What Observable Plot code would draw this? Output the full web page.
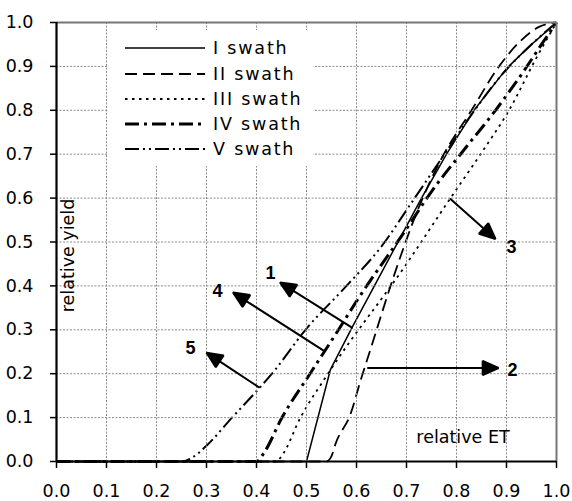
<!DOCTYPE html>
<html><head><meta charset="utf-8">
<script src="https://cdn.jsdelivr.net/npm/d3@7"></script>
<script src="https://cdn.jsdelivr.net/npm/@observablehq/plot@0.6"></script>
<style>
body{margin:0;background:#fff;}
#wrap{position:relative;width:572px;height:501px;}
#legend{position:absolute;left:107px;top:30px;width:206px;height:136px;background:#fff;font-family:"DejaVu Sans",sans-serif;font-size:17.5px;letter-spacing:1.8px;color:#000;}
#legend .row{position:absolute;left:0;height:22px;display:flex;align-items:center;white-space:nowrap;}
#legend .swatch{display:block;margin-left:18px;margin-right:8px;}
</style></head><body><div id="wrap"></div>
<script>
// ---- data ----
const tickValues = [0.0, 0.1, 0.2, 0.3, 0.4, 0.5, 0.6, 0.7, 0.8, 0.9, 1.0];

const swathI_et    = [0, 0.50, 0.548, 0.591, 0.73, 0.78, 0.835, 0.90, 0.945, 1.0];
const swathI_yield = [0, 0.00, 0.21,  0.305, 0.60, 0.70, 0.80,  0.895, 0.945, 1.0];

const swathII_et    = [0, 0.54, 0.55, 0.558, 0.588, 0.608, 0.632, 0.671, 0.725, 0.77, 0.83, 0.885, 0.93, 0.965, 1.0];
const swathII_yield = [0, 0.00, 0.012, 0.04, 0.108, 0.184, 0.27, 0.41, 0.58, 0.69, 0.80, 0.90, 0.96, 0.99, 1.0];

const swathIII_et    = [0, 0.44, 0.45, 0.488, 0.543, 0.70, 0.788, 0.848, 0.905, 0.96, 1.0];
const swathIII_yield = [0, 0.00, 0.012, 0.10, 0.20, 0.45, 0.60, 0.70, 0.80, 0.92, 1.0];

const swathIV_et    = [0, 0.40, 0.415, 0.451, 0.507, 0.564, 0.60, 0.70, 0.75, 0.808, 0.878, 0.935, 0.97, 1.0];
const swathIV_yield = [0, 0.00, 0.02, 0.10, 0.20, 0.30, 0.365, 0.53, 0.615, 0.70, 0.80, 0.89, 0.95, 1.0];

const swathV_et    = [0, 0.25, 0.27, 0.30, 0.351, 0.40, 0.431, 0.498, 0.58, 0.65, 0.708, 0.77, 0.83, 0.89, 0.95, 1.0];
const swathV_yield = [0, 0.00, 0.008, 0.036, 0.10, 0.16, 0.20, 0.30, 0.40, 0.49, 0.586, 0.69, 0.79, 0.88, 0.95, 1.0];

const swathNames = ["I swath", "II swath", "III swath", "IV swath", "V swath"];

// annotation numbers with arrows (tail on curve -> head near label)
const noteLabels = ["1", "2", "3", "4", "5"];
const noteTextEt    = [0.428, 0.912, 0.91, 0.322, 0.268];
const noteTextYield = [0.429, 0.209, 0.487, 0.388, 0.259];
const arrowFromEt    = [0.591, 0.623, 0.788, 0.535, 0.405];
const arrowFromYield = [0.305, 0.213, 0.598, 0.252, 0.169];
const arrowToEt      = [0.447, 0.884, 0.878, 0.353, 0.300];
const arrowToYield   = [0.408, 0.213, 0.507, 0.385, 0.248];

// ---- styles ----
const swathStyles = [
  {width: 1.5, dash: "none", curve: "linear"},
  {width: 1.8, dash: "12,6", curve: "monotone-x"},
  {width: 1.8, dash: "2.5,4.5", curve: "monotone-x"},
  {width: 3.0, dash: "14,5,3,5", curve: "monotone-x"},
  {width: 2.0, dash: "14,4,2,4,2,4", curve: "monotone-x"}
];

const series = [
  [swathI_et, swathI_yield],
  [swathII_et, swathII_yield],
  [swathIII_et, swathIII_yield],
  [swathIV_et, swathIV_yield],
  [swathV_et, swathV_yield]
].map(([xs, ys], k) => xs.map((x, i) => ({et: x, val: ys[i]})));

const notes = noteLabels.map((t, i) => ({
  t, tx: noteTextEt[i], ty: noteTextYield[i],
  x1: arrowFromEt[i], y1: arrowFromYield[i], x2: arrowToEt[i], y2: arrowToYield[i]
}));

const fmt = d3.format(".1f");

const lineMarks = series.map((data, k) => Plot.line(data, {
  x: "et", y: "val", stroke: "#000",
  strokeWidth: swathStyles[k].width,
  strokeDasharray: swathStyles[k].dash,
  curve: swathStyles[k].curve,
  strokeLinecap: "butt", strokeLinejoin: "round"
}));

const plot = Plot.plot({
  width: 572, height: 501,
  marginTop: 22, marginRight: 16, marginBottom: 40, marginLeft: 56,
  style: {fontFamily: "DejaVu Sans, sans-serif", fontSize: "17.5px"},
  x: {domain: [0, 1]},
  y: {domain: [0, 1]},
  marks: [
    ...lineMarks,
    Plot.ruleX(tickValues, {stroke: "#8c8c8c", strokeWidth: 1, strokeDasharray: "2,1.5"}),
    Plot.ruleY(tickValues, {stroke: "#8c8c8c", strokeWidth: 1, strokeDasharray: "2,1.5"}),
    Plot.ruleY([1], {stroke: "#777777", strokeWidth: 2}),
    Plot.ruleX([1], {stroke: "#777777", strokeWidth: 2}),
    Plot.ruleX([0], {stroke: "#000", strokeWidth: 2.2}),
    Plot.ruleY([0], {stroke: "#000", strokeWidth: 2.2}),
    Plot.axisX({ticks: tickValues, tickFormat: fmt, tickSize: 7, tickPadding: 16, label: null, strokeWidth: 1.5}),
    Plot.axisY({ticks: tickValues, tickFormat: fmt, tickSize: 6, tickPadding: 17, label: null, strokeWidth: 1.5}),
    Plot.arrow(notes, {x1: "x1", y1: "y1", x2: "x2", y2: "y2", stroke: "#000", strokeWidth: 2, headLength: 13, headAngle: 48}),
    Plot.text(notes, {x: "tx", y: "ty", text: "t", fontWeight: "bold", fontSize: 18, fontFamily: "Liberation Sans, Arial, sans-serif"}),
    Plot.text(["relative ET"], {x: 0.813, y: 0.054, fontSize: 17.5}),
    Plot.text(["relative yield"], {frameAnchor: "left", y: 0.34, dx: 12, rotate: -90, fontSize: 17.5})
  ]
});

// make arrow heads filled triangles
d3.select(plot).selectAll('g[aria-label="arrow"] path').each(function() {
  const d = this.getAttribute("d");
  const n = (d.match(/-?\d*\.?\d+(?:e-?\d+)?/g) || []).map(Number);
  if (n.length >= 10) {
    const [x1, y1, x2, y2, x3, y3, , , x4, y4] = n;
    const mx = (x3 + x4) / 2, my = (y3 + y4) / 2;
    this.setAttribute("d", `M${x1},${y1}L${mx},${my}M${x3},${y3}L${x2},${y2}L${x4},${y4}Z`);
    this.setAttribute("fill", "#000");
    this.setAttribute("stroke-linejoin", "miter");
  }
});

const wrap = document.getElementById("wrap");
wrap.appendChild(plot);

// legend (inside plot area, top-left)
const legend = d3.select(wrap).append("div").attr("id", "legend");
const rowTops = [7, 33, 58, 83, 108];
swathNames.forEach((name, k) => {
  const row = legend.append("div").attr("class", "row").style("top", rowTops[k] + "px");
  const s = row.append("svg").attr("class", "swatch").attr("width", 80).attr("height", 10);
  s.append("line").attr("x1", 0).attr("x2", 80).attr("y1", 5).attr("y2", 5)
    .attr("stroke", "#000").attr("stroke-width", swathStyles[k].width)
    .attr("stroke-dasharray", swathStyles[k].dash);
  row.append("span").text(name);
});
</script>
</body></html>
